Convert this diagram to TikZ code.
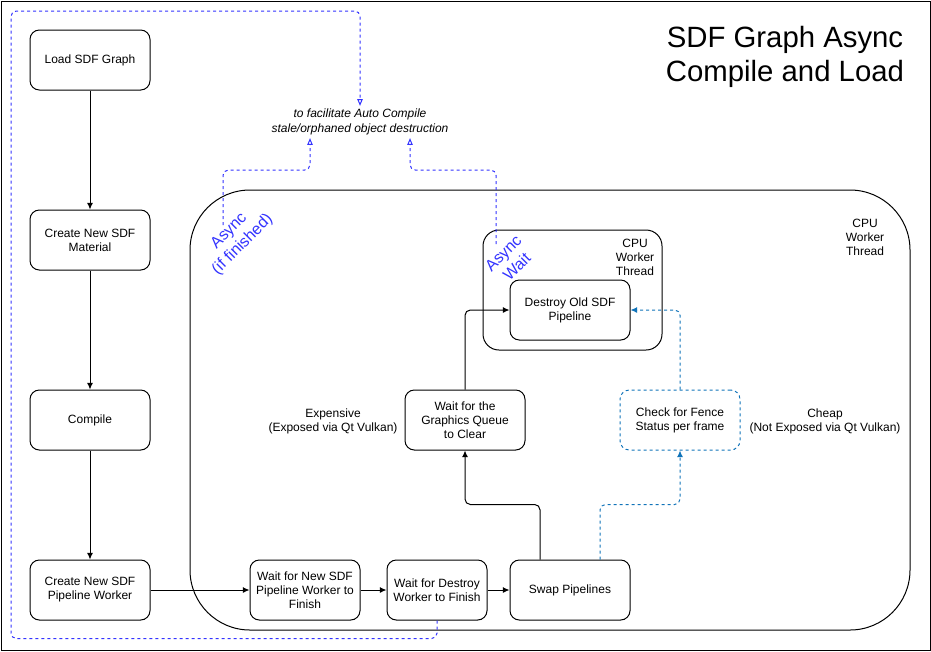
\documentclass[tikz,border=0pt]{standalone}
\usepackage{fontspec}
\setmainfont{Liberation Sans}
\usetikzlibrary{arrows.meta}
\definecolor{asyncblue}{RGB}{51,51,255}
\definecolor{fenceblue}{RGB}{16,115,185}

\tikzset{
    box/.style={draw, rounded corners=7pt, minimum width=90pt, minimum height=45pt,
        inner sep=0pt, align=center, font=\fontsize{9}{10.5}\selectfont},
    txt/.style={align=center, font=\fontsize{9}{10.5}\selectfont},
    pfeil/.style={-{Latex[length=5pt,width=4.5pt]}, rounded corners=4pt},
    asyncpfeil/.style={draw=asyncblue, dash pattern=on 2.25pt off 2.25pt,
        -{Triangle[open,length=5pt,width=4pt]}, rounded corners=4pt},
    fencepfeil/.style={draw=fenceblue, dash pattern=on 2.25pt off 2.25pt,
        -{Latex[length=5pt,width=4.5pt]}, rounded corners=4pt},
    asynctxt/.style={text=asyncblue, rotate=45, align=center, inner sep=0pt,
        font=\fontsize{12}{14.4}\selectfont}
}

\begin{document}
\begin{tikzpicture}[x=0.75pt, y=-0.75pt, line width=0.75pt]
    \useasboundingbox (0,0) rectangle (931,651);
    \draw (1,1) rectangle (930,650);

    % Bereiche.
    \draw[rounded corners=45pt] (190,190) rectangle (910,630);
    \draw[rounded corners=12pt] (483,230) rectangle (662,350);
    \node[txt] (cpuA) at (865,237) {CPU\\Worker\\Thread};
    \node[txt] (cpuB) at (635,257) {CPU\\Worker\\Thread};

    % Titel.
    \node[align=center, font=\fontsize{22}{25.5}\selectfont] (title) at (785,57)
        {SDF Graph Async\\Compile and Load};

    % Knoten links.
    \node[box] (load) at (90,60) {Load SDF Graph};
    \node[box] (material) at (90,240) {Create New SDF\\Material};
    \node[box] (compile) at (90,420) {Compile};
    \node[box] (worker) at (90,590) {Create New SDF\\Pipeline Worker};

    % Knoten unten.
    \node[box, minimum width=82.5pt] (waitnew) at (305,590) {Wait for New SDF\\Pipeline Worker to\\Finish};
    \node[box, minimum width=75pt] (waitdestroy) at (437,590) {Wait for Destroy\\Worker to Finish};
    \node[box] (swap) at (570,590) {Swap Pipelines};

    % Knoten oben.
    \node[box] (queue) at (465,420) {Wait for the\\Graphics Queue\\to Clear};
    \node[box, draw=fenceblue, dash pattern=on 2.25pt off 2.25pt] (fence) at (680,420)
        {Check for Fence\\Status per frame};
    \node[box] (destroy) at (570,310) {Destroy Old SDF\\Pipeline};

    % Beschriftung.
    \node[txt] (expensive) at (333,421) {Expensive\\(Exposed via Qt Vulkan)};
    \node[txt] (cheap) at (825,421) {Cheap\\(Not Exposed via Qt Vulkan)};
    \node[align=center, inner sep=2pt, font=\fontsize{9}{11}\selectfont\itshape] (note) at (360,122)
        {to facilitate Auto Compile\\stale/orphaned object destruction};
    \node[asynctxt] (asyncA) at (236,238) {Async\\(if finished)};
    \node[asynctxt] (asyncB) at (510,260) {Async\\Wait};
    \coordinate (startA) at (223,225);
    \coordinate (startB) at (496,244);

    % Pfeile.
    \draw[pfeil] (load) -- (material);
    \draw[pfeil] (material) -- (compile);
    \draw[pfeil] (compile) -- (worker);
    \draw[pfeil] (worker) -- (waitnew);
    \draw[pfeil] (waitnew) -- (waitdestroy);
    \draw[pfeil] (waitdestroy) -- (swap);
    \draw[pfeil] ([xshift=-22.5pt]swap.north) -- ++(0,-55) -| (queue.south);
    \draw[pfeil] (queue.north) |- (destroy.west);
    \draw[fencepfeil] ([xshift=22.5pt]swap.north) -- ++(0,-55) -| (fence.south);
    \draw[fencepfeil] (fence.north) |- (destroy.east);

    % Async.
    \draw[asyncpfeil] (waitdestroy.south) -- ++(0,18) -| (11,400) |- (300,11) -| (note.north);
    \draw[asyncpfeil] (startA) |- (270,170) -| ([xshift=-37.5pt]note.south);
    \draw[asyncpfeil] (startB) |- (450,170) -| ([xshift=37.5pt]note.south);
\end{tikzpicture}
\end{document}
